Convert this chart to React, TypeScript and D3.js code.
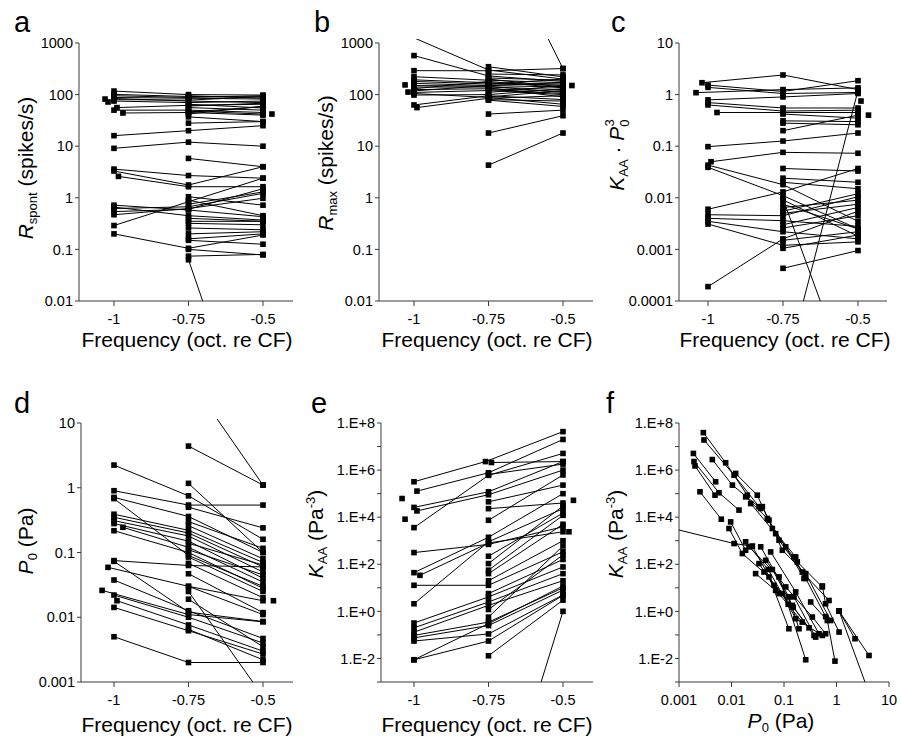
import React from 'react';
import * as d3 from 'd3';

type Pt = [number, number];

const FONT = '"Liberation Sans", Arial, Helvetica, sans-serif';

const FREQ_TICKS = [-1, -0.75, -0.5];
const FREQ_TICK_LABELS = ['-1', '-0.75', '-0.5'];

const TICKS_A = [0.01, 0.1, 1, 10, 100, 1000];
const TICK_LABELS_A = ['0.01', '0.1', '1', '10', '100', '1000'];
const TICKS_C = [0.0001, 0.001, 0.01, 0.1, 1, 10];
const TICK_LABELS_C = ['0.0001', '0.001', '0.01', '0.1', '1', '10'];
const TICKS_D = [0.001, 0.01, 0.1, 1, 10];
const TICK_LABELS_D = ['0.001', '0.01', '0.1', '1', '10'];
const TICKS_E = [1e-2, 1, 1e2, 1e4, 1e6, 1e8];
const TICK_LABELS_E = ['1.E-2', '1.E+0', '1.E+2', '1.E+4', '1.E+6', '1.E+8'];
const MINOR_E = [1e-3, 1e-1, 1e1, 1e3, 1e5, 1e7];
const TICKS_FX = [0.001, 0.01, 0.1, 1, 10];
const TICK_LABELS_FX = ['0.001', '0.01', '0.1', '1', '10'];

// a: R_spont (spikes/s) per unit
const rSpontUnits: Pt[][] = [
  [[-1, 117], [-0.75, 100], [-0.5, 98]],
  [[-1, 101], [-0.75, 92], [-0.5, 90]],
  [[-1, 95], [-0.75, 88], [-0.5, 95]],
  [[-1, 88], [-0.75, 85], [-0.5, 82]],
  [[-1, 84], [-0.75, 75], [-0.5, 70]],
  [[-1, 80], [-0.75, 78], [-0.5, 92]],
  [[-1, 75], [-0.75, 70], [-0.5, 75]],
  [[-1.03, 82]],
  [[-1.02, 72]],
  [[-0.99, 56], [-0.75, 62], [-0.5, 65]],
  [[-1, 50], [-0.75, 50], [-0.5, 45]],
  [[-0.97, 44], [-0.75, 45], [-0.5, 40]],
  [[-0.75, 95], [-0.5, 85]],
  [[-0.75, 65], [-0.5, 55]],
  [[-0.75, 60], [-0.5, 68]],
  [[-0.75, 56], [-0.5, 50]],
  [[-0.75, 48], [-0.5, 42]],
  [[-0.75, 46], [-0.5, 58]],
  [[-0.75, 42], [-0.5, 60]],
  [[-0.47, 42]],
  [[-0.75, 37], [-0.5, 30]],
  [[-0.75, 28], [-0.5, 30]],
  [[-1, 16], [-0.75, 20], [-0.5, 25]],
  [[-1, 9.1], [-0.75, 12], [-0.5, 10]],
  [[-0.75, 5.8], [-0.5, 4.0]],
  [[-1, 3.6], [-0.75, 2.7], [-0.5, 2.4]],
  [[-1, 3.3], [-0.75, 1.77], [-0.5, 4.0]],
  [[-0.985, 2.6], [-0.75, 1.64], [-0.5, 1.64]],
  [[-1, 0.72], [-0.75, 0.58], [-0.5, 0.43]],
  [[-1, 0.66], [-0.75, 0.45], [-0.5, 0.37]],
  [[-1, 0.62], [-0.75, 0.67], [-0.5, 1.22]],
  [[-1, 0.54], [-0.75, 0.6], [-0.5, 1.5]],
  [[-1, 0.47], [-0.75, 0.62], [-0.5, 0.98]],
  [[-1, 0.29], [-0.75, 0.84], [-0.5, 2.4]],
  [[-1, 0.2], [-0.75, 0.105], [-0.5, 0.19]],
  [[-0.75, 1.05], [-0.5, 0.72]],
  [[-0.75, 0.9], [-0.5, 0.45]],
  [[-0.75, 0.75], [-0.5, 1.3]],
  [[-0.75, 0.4], [-0.5, 0.35]],
  [[-0.75, 0.35], [-0.5, 0.35]],
  [[-0.75, 0.32], [-0.5, 0.3]],
  [[-0.75, 0.26], [-0.5, 0.24]],
  [[-0.75, 0.2], [-0.5, 0.22]],
  [[-0.75, 0.15], [-0.5, 0.126]],
  [[-0.75, 0.16], [-0.5, 0.2]],
  [[-0.75, 0.074], [-0.5, 0.08]],
  [[-0.75, 0.1], [-0.5, 0.078]],
  [[-0.75, 0.063], [-0.5, 4e-6]],
];

// b: R_max (spikes/s)
const rMaxUnits: Pt[][] = [
  [[-1, 1260], [-0.75, 300], [-0.5, 200]],
  [[-1, 570], [-0.75, 230], [-0.5, 180]],
  [[-1, 291], [-0.75, 290], [-0.5, 320]],
  [[-0.75, 2.5e5], [-0.5, 320]],
  [[-1, 222], [-0.75, 190], [-0.5, 170]],
  [[-1, 193], [-0.75, 170], [-0.5, 150]],
  [[-1, 180], [-0.75, 160], [-0.5, 160]],
  [[-1, 165], [-0.75, 150], [-0.5, 140]],
  [[-1, 150], [-0.75, 145], [-0.5, 110]],
  [[-1, 140], [-0.75, 140], [-0.5, 125]],
  [[-1, 130], [-0.75, 180], [-0.5, 135]],
  [[-1, 125], [-0.75, 130], [-0.5, 115]],
  [[-1, 118], [-0.75, 150], [-0.5, 170]],
  [[-1, 110], [-0.75, 120], [-0.5, 100]],
  [[-1, 105], [-0.75, 88], [-0.5, 65]],
  [[-1, 98], [-0.75, 100], [-0.5, 130]],
  [[-1, 63], [-0.75, 95], [-0.5, 80]],
  [[-0.99, 56], [-0.75, 85], [-0.5, 95]],
  [[-1.03, 154]],
  [[-1.02, 112]],
  [[-0.47, 150]],
  [[-0.75, 347], [-0.5, 220]],
  [[-0.75, 250], [-0.5, 241]],
  [[-0.75, 210], [-0.5, 190]],
  [[-0.75, 200], [-0.5, 140]],
  [[-0.75, 160], [-0.5, 200]],
  [[-0.75, 135], [-0.5, 90]],
  [[-0.75, 125], [-0.5, 105]],
  [[-0.75, 110], [-0.5, 150]],
  [[-0.75, 90], [-0.5, 120]],
  [[-0.75, 80], [-0.5, 75]],
  [[-0.75, 78], [-0.5, 59]],
  [[-0.75, 42], [-0.5, 50]],
  [[-0.75, 18], [-0.5, 39]],
  [[-0.75, 4.3], [-0.5, 18]],
];

// c: K_AA * P0^3
const kp3Units: Pt[][] = [
  [[-1.02, 1.7], [-0.75, 2.4], [-0.5, 1.25]],
  [[-1, 1.53], [-0.75, 1.15], [-0.5, 1.86]],
  [[-1, 1.38], [-0.75, 1.05], [-0.5, 1.1]],
  [[-1.04, 1.09], [-0.75, 1.25], [-0.5, 1.35]],
  [[-1, 0.79], [-0.75, 0.9], [-0.5, 1.05]],
  [[-1, 0.7], [-0.75, 0.55], [-0.5, 0.55]],
  [[-1, 0.63], [-0.75, 0.48], [-0.5, 0.5]],
  [[-0.97, 0.45], [-0.75, 0.45], [-0.5, 0.45]],
  [[-0.75, 0.42], [-0.5, 0.35]],
  [[-0.75, 0.31], [-0.5, 0.3]],
  [[-0.75, 0.28], [-0.5, 0.26]],
  [[-0.75, 0.2], [-0.5, 0.4]],
  [[-0.49, 0.75]],
  [[-0.465, 0.4]],
  [[-1, 0.098], [-0.75, 0.126], [-0.5, 0.18]],
  [[-0.99, 0.05], [-0.75, 0.076], [-0.5, 0.073]],
  [[-1, 0.043], [-0.75, 0.018], [-0.5, 0.0035]],
  [[-1, 0.039], [-0.75, 0.011], [-0.5, 0.0025]],
  [[-0.75, 0.037], [-0.5, 0.033]],
  [[-0.75, 0.024], [-0.5, 0.02]],
  [[-0.75, 0.02], [-0.5, 0.015]],
  [[-1, 0.006], [-0.75, 0.013], [-0.5, 0.037]],
  [[-1, 0.0047], [-0.75, 0.0045], [-0.5, 0.0105]],
  [[-1, 0.004], [-0.75, 0.0036], [-0.5, 0.0028]],
  [[-1, 0.0035], [-0.75, 0.0022], [-0.5, 0.0016]],
  [[-1, 0.0031], [-0.75, 0.0012], [-0.5, 0.0014]],
  [[-1, 0.00019], [-0.75, 0.0016], [-0.5, 0.0055]],
  [[-0.75, 0.00043], [-0.5, 0.00095]],
  [[-0.75, 0.0091], [-0.5, 0.0018]],
  [[-0.75, 0.0075], [-0.5, 0.0025]],
  [[-0.75, 0.0065], [-0.5, 0.009]],
  [[-0.75, 0.0055], [-0.5, 0.012]],
  [[-0.75, 0.005], [-0.5, 0.0075]],
  [[-0.75, 0.003], [-0.5, 0.0065]],
  [[-0.75, 0.0026], [-0.5, 0.0045]],
  [[-0.75, 0.0015], [-0.5, 0.0022]],
  [[-0.75, 0.00105], [-0.5, 0.0019]],
  [[-0.75, 0.0095], [-0.5, 1e-6]],
  [[-0.75, 3e-6], [-0.5, 1.2]],
];

// d: P0 (Pa)
const p0Units: Pt[][] = [
  [[-0.75, 50], [-0.5, 1.1]],
  [[-0.75, 4.4], [-0.5, 1.1]],
  [[-1, 2.24], [-0.75, 0.75], [-0.5, 0.16]],
  [[-1, 0.9], [-0.75, 0.54], [-0.5, 0.54]],
  [[-1, 0.71], [-0.75, 0.36], [-0.5, 0.1]],
  [[-1, 0.68], [-0.75, 0.09], [-0.5, 0.03]],
  [[-1, 0.39], [-0.75, 0.22], [-0.5, 0.07]],
  [[-1, 0.35], [-0.75, 0.2], [-0.5, 0.06]],
  [[-1, 0.31], [-0.75, 0.18], [-0.5, 0.05]],
  [[-1, 0.28], [-0.75, 0.15], [-0.5, 0.04]],
  [[-0.97, 0.245], [-0.75, 0.12], [-0.5, 0.035]],
  [[-1, 0.217], [-0.75, 0.1], [-0.5, 0.028]],
  [[-0.75, 1.17], [-0.5, 0.1]],
  [[-0.75, 0.5], [-0.5, 0.24]],
  [[-0.75, 0.3], [-0.5, 0.116]],
  [[-0.75, 0.26], [-0.5, 0.08]],
  [[-0.75, 0.139], [-0.5, 0.064]],
  [[-0.75, 0.11], [-0.5, 0.045]],
  [[-0.75, 0.085], [-0.5, 0.025]],
  [[-0.75, 0.068], [-0.5, 0.02]],
  [[-1, 0.075], [-0.75, 0.063], [-0.5, 0.06]],
  [[-1, 0.073], [-0.75, 0.012], [-0.5, 0.0086]],
  [[-1.02, 0.059], [-0.75, 0.03], [-0.5, 0.011]],
  [[-1, 0.0376], [-0.75, 0.0126], [-0.5, 0.0047]],
  [[-1.04, 0.026], [-0.75, 0.011], [-0.5, 0.0085]],
  [[-1, 0.022], [-0.75, 0.01], [-0.5, 0.004]],
  [[-0.99, 0.018], [-0.75, 0.0076], [-0.5, 0.003]],
  [[-1, 0.0142], [-0.75, 0.0062], [-0.5, 0.0027]],
  [[-1, 0.005], [-0.75, 0.002], [-0.5, 0.002]],
  [[-0.75, 0.047], [-0.5, 0.0118]],
  [[-0.75, 0.03], [-0.5, 0.018]],
  [[-0.75, 0.019], [-0.5, 0.0035]],
  [[-0.75, 0.025], [-0.5, 0.0006]],
  [[-0.75, 0.0065], [-0.5, 0.0022]],
  [[-0.465, 0.018]],
];

// e: K_AA (Pa^-3)
const kaaUnits: Pt[][] = [
  [[-1, 3.2e5], [-0.76, 2.3e6], [-0.5, 4.3e7]],
  [[-0.74, 2.1e6], [-0.5, 2.3e6]],
  [[-0.99, 1.28e5], [-0.75, 7.7e5], [-0.5, 2e7]],
  [[-1.04, 6.2e4]],
  [[-1, 2.6e4], [-0.75, 1.2e5], [-0.5, 2.3e6]],
  [[-0.99, 1.85e4], [-0.75, 9e4], [-0.5, 1e6]],
  [[-1.03, 8.2e3]],
  [[-1, 3.6e3], [-0.75, 6e5], [-0.5, 5.1e6]],
  [[-0.75, 6.5e5], [-0.5, 1.8e6]],
  [[-0.75, 2.3e4], [-0.5, 4e4]],
  [[-0.75, 7.4e3], [-0.5, 6.2e5]],
  [[-0.75, 4.5e4], [-0.5, 2.3e5]],
  [[-1, 314], [-0.75, 700], [-0.5, 3.9e3]],
  [[-1, 44], [-0.75, 1.4e3], [-0.5, 1e5]],
  [[-0.98, 34], [-0.75, 800], [-0.5, 2.4e3]],
  [[-1, 12.8], [-0.75, 12.8], [-0.5, 340]],
  [[-1, 2.1], [-0.75, 900], [-0.5, 2.3e4]],
  [[-1, 0.32], [-0.75, 4.1], [-0.5, 77]],
  [[-1, 0.2], [-0.75, 2.5], [-0.5, 40]],
  [[-1, 0.13], [-0.75, 1.8], [-0.5, 20]],
  [[-1, 0.095], [-0.75, 0.35], [-0.5, 10]],
  [[-1, 0.075], [-0.75, 0.25], [-0.5, 8]],
  [[-1, 0.055], [-0.75, 0.11], [-0.5, 5]],
  [[-1, 0.0088], [-0.75, 0.055], [-0.5, 4.8]],
  [[-1, 0.0088], [-0.75, 0.3], [-0.5, 12]],
  [[-0.75, 0.013], [-0.5, 3]],
  [[-0.75, 107], [-0.5, 3e4]],
  [[-0.75, 56], [-0.5, 1.2e4]],
  [[-0.75, 40], [-0.5, 5e3]],
  [[-0.75, 220], [-0.5, 1.5e4]],
  [[-0.75, 0.57], [-0.5, 600]],
  [[-0.75, 5.7], [-0.5, 160]],
  [[-0.75, 1.2], [-0.5, 250]],
  [[-0.75, 20], [-0.5, 1e3]],
  [[-0.75, 6e-11], [-0.5, 1]],
  [[-0.465, 5.2e4]],
  [[-0.48, 2.4e3]],
];

// f: K_AA vs P0, one chain per unit
const kaaVsP0Units: Pt[][] = [
  [[0.00291, 3.9e7], [0.00774, 2.05e6], [0.02, 8.6e4]],
  [[0.00299, 1.9e7], [0.0112, 6.1e5], [0.0334, 2.8e4]],
  [[0.00431, 2.8e6], [0.0104, 2.3e5], [0.036, 2.34e4]],
  [[0.00188, 5.1e6], [0.00499, 3.2e5]],
  [[0.00193, 2.3e6], [0.00578, 1.09e5], [0.0139, 2e4]],
  [[0.00202, 1.5e6], [0.00485, 8.6e4]],
  [[0.00251, 1.2e5], [0.0064, 8.2e3]],
  [[0.012, 7.2e5], [0.031, 8.6e4], [0.06, 3.3e3], [0.167, 205]],
  [[0.0186, 7.3e4], [0.0482, 8.8e3], [0.108, 550], [0.24, 25]],
  [[0.0232, 3.8e4], [0.0694, 2.0e3], [0.179, 126], [0.537, 10.9]],
  [[0.0387, 2.8e4], [0.0804, 1.05e3], [0.223, 47], [0.72, 2.9]],
  [[0.0518, 7.5e3], [0.093, 394], [0.259, 40], [0.775, 0.41]],
  [[0.537, 12], [0.62, 2.1], [1.12, 0.132]],
  [[1.12, 1.03], [2.25, 0.069]],
  [[1.12, 1.03], [4.16, 0.0134]],
  [[1.12, 1.03], [10, 1.6e-6]],
  [[0.00896, 3.3e3], [0.0161, 285], [0.0518, 29], [0.124, 0.183]],
  [[0.00964, 6.3e3], [0.0186, 394]],
  [[0.0001, 1e4], [0.0112, 760], [0.0249, 583]],
  [[0.0216, 550], [0.0804, 29], [0.259, 0.0088]],
  [[0.036, 550], [0.124, 4.1], [0.193, 0.183]],
  [[0.0557, 335], [0.167, 6.7], [0.464, 0.112]],
  [[0.0249, 583], [0.0645, 12.8], [0.144, 1.8], [0.373, 0.095]],
  [[0.0448, 148], [0.108, 10.9], [0.347, 0.574], [0.622, 0.112]],
  [[0.0334, 107], [0.0804, 5.7], [0.223, 0.35]],
  [[0.0288, 40], [0.0694, 7.8], [0.155, 4.1], [0.401, 0.081]],
  [[0.0416, 47], [0.093, 5.7], [0.167, 0.488], [0.537, 0.095]],
  [[0.322, 2.5], [0.668, 0.41], [0.935, 0.0077]],
  [[0.155, 205], [0.259, 25], [0.622, 0.6]],
  [[0.0186, 900], [0.05, 60], [0.12, 2.0]],
  [[0.06, 60], [0.15, 1.5], [0.3, 0.2]],
];

interface Spec {
  letter: string;
  letterPos: [number, number];
  xRange: [number, number];
  xDomain: [number, number];
  xLog: boolean;
  xTicks: number[];
  xTickLabels: string[];
  yRange: [number, number];
  yDomain: [number, number];
  yTicks: number[];
  yTickLabels: string[];
  yMinor: number[];
  units: Pt[][];
  xTitle: React.ReactNode;
  xTitlePos: [number, number];
  yTitle: React.ReactNode;
  yTitlePos: [number, number];
}

const SUB = 13;
const freqTitle = 'Frequency (oct. re CF)';

const it = (s: string) => <tspan fontStyle="italic">{s}</tspan>;

const specs: Spec[] = [
  {
    letter: 'a', letterPos: [14, 32],
    xRange: [79, 293], xDomain: [-1.1174, -0.3993], xLog: false,
    xTicks: FREQ_TICKS, xTickLabels: FREQ_TICK_LABELS,
    yRange: [301, 43], yDomain: [0.01, 1000], yTicks: TICKS_A, yTickLabels: TICK_LABELS_A, yMinor: [],
    units: rSpontUnits,
    xTitle: freqTitle, xTitlePos: [187, 347],
    yTitle: (<>{it('R')}<tspan fontSize={SUB} dy={4}>spont</tspan><tspan dy={-4}> (spikes/s)</tspan></>),
    yTitlePos: [33, 168],
  },
  {
    letter: 'b', letterPos: [314, 32],
    xRange: [379, 593], xDomain: [-1.1174, -0.3993], xLog: false,
    xTicks: FREQ_TICKS, xTickLabels: FREQ_TICK_LABELS,
    yRange: [301, 43], yDomain: [0.01, 1000], yTicks: TICKS_A, yTickLabels: TICK_LABELS_A, yMinor: [],
    units: rMaxUnits,
    xTitle: freqTitle, xTitlePos: [487, 347],
    yTitle: (<>{it('R')}<tspan fontSize={SUB} dy={4}>max</tspan><tspan dy={-4}> (spikes/s)</tspan></>),
    yTitlePos: [333, 163],
  },
  {
    letter: 'c', letterPos: [611, 32],
    xRange: [679, 887], xDomain: [-1.0967, -0.4033], xLog: false,
    xTicks: FREQ_TICKS, xTickLabels: FREQ_TICK_LABELS,
    yRange: [301, 43], yDomain: [0.0001, 10], yTicks: TICKS_C, yTickLabels: TICK_LABELS_C, yMinor: [],
    units: kp3Units,
    xTitle: freqTitle, xTitlePos: [785, 347],
    yTitle: (<>{it('K')}<tspan fontSize={SUB} dy={4}>AA</tspan><tspan dy={-4}>{' \u00b7 '}</tspan>{it('P')}<tspan fontSize={SUB} dy={5}>0</tspan><tspan fontSize={SUB} dx={-7.2} dy={-15}>3</tspan></>),
    yTitlePos: [624, 155],
  },
  {
    letter: 'd', letterPos: [14, 413],
    xRange: [81, 293], xDomain: [-1.1107, -0.3993], xLog: false,
    xTicks: FREQ_TICKS, xTickLabels: FREQ_TICK_LABELS,
    yRange: [682, 423], yDomain: [0.001, 10], yTicks: TICKS_D, yTickLabels: TICK_LABELS_D, yMinor: [],
    units: p0Units,
    xTitle: freqTitle, xTitlePos: [187, 732],
    yTitle: (<>{it('P')}<tspan fontSize={SUB} dy={4}>0</tspan><tspan dy={-4}> (Pa)</tspan></>),
    yTitlePos: [33, 541],
  },
  {
    letter: 'e', letterPos: [311, 413],
    xRange: [381, 593], xDomain: [-1.1107, -0.3993], xLog: false,
    xTicks: FREQ_TICKS, xTickLabels: FREQ_TICK_LABELS,
    yRange: [682, 423], yDomain: [0.001, 1e8], yTicks: TICKS_E, yTickLabels: TICK_LABELS_E, yMinor: MINOR_E,
    units: kaaUnits,
    xTitle: freqTitle, xTitlePos: [487, 732],
    yTitle: (<>{it('K')}<tspan fontSize={SUB} dy={4}>AA</tspan><tspan dy={-4}> (Pa</tspan><tspan fontSize={SUB} dy={-8}>-3</tspan><tspan dy={8}>)</tspan></>),
    yTitlePos: [323, 534],
  },
  {
    letter: 'f', letterPos: [606, 413],
    xRange: [679, 889], xDomain: [0.001, 10], xLog: true,
    xTicks: TICKS_FX, xTickLabels: TICK_LABELS_FX,
    yRange: [682, 423], yDomain: [0.001, 1e8], yTicks: TICKS_E, yTickLabels: TICK_LABELS_E, yMinor: MINOR_E,
    units: kaaVsP0Units,
    xTitle: (<>{it('P')}<tspan fontSize={SUB} dy={4}>0</tspan><tspan dy={-4}> (Pa)</tspan></>),
    xTitlePos: [781, 728],
    yTitle: (<>{it('K')}<tspan fontSize={SUB} dy={4}>AA</tspan><tspan dy={-4}> (Pa</tspan><tspan fontSize={SUB} dy={-8}>-3</tspan><tspan dy={8}>)</tspan></>),
    yTitlePos: [623, 534],
  },
];

const AXIS = '#3a3a3a';
const SQ = 5.6;

function Panel({ spec, idx }: { spec: Spec; idx: number }) {
  const x = spec.xLog
    ? d3.scaleLog().domain(spec.xDomain).range(spec.xRange)
    : d3.scaleLinear().domain(spec.xDomain).range(spec.xRange);
  const y = d3.scaleLog().domain(spec.yDomain).range(spec.yRange);
  const [x0, x1] = spec.xRange;
  const [yb, yt] = spec.yRange;
  const line = d3.line<Pt>().x((d) => x(d[0])).y((d) => y(d[1]));
  const clipId = `clip-${idx}`;
  const inside = (p: Pt) => {
    const px = x(p[0]);
    const py = y(p[1]);
    return px >= x0 - 1 && px <= x1 + 1 && py >= yt - 1 && py <= yb + 1;
  };
  return (
    <g>
      <defs>
        <clipPath id={clipId}>
          <rect x={x0} y={yt - 4} width={x1 - x0} height={yb - yt + 4} />
        </clipPath>
      </defs>
      <text x={spec.letterPos[0]} y={spec.letterPos[1]} fontSize={29} fontFamily={FONT}>{spec.letter}</text>
      <line x1={x0} x2={x0} y1={yt} y2={yb} stroke={AXIS} strokeWidth={1} />
      <line x1={x0} x2={x1} y1={yb} y2={yb} stroke={AXIS} strokeWidth={1} />
      {spec.yTicks.map((t, i) => (
        <g key={`yt${i}`}>
          <line x1={x0 - 4} x2={x0} y1={y(t)} y2={y(t)} stroke={AXIS} />
          <text x={x0 - 6} y={y(t)} dy="0.36em" textAnchor="end" fontSize={14.5} fontFamily={FONT}>{spec.yTickLabels[i]}</text>
        </g>
      ))}
      {spec.yMinor.map((t, i) => (
        <line key={`ym${i}`} x1={x0 - 4} x2={x0} y1={y(t)} y2={y(t)} stroke={AXIS} />
      ))}
      {spec.xTicks.map((t, i) => (
        <g key={`xt${i}`}>
          <line x1={x(t)} x2={x(t)} y1={yb} y2={yb + 5} stroke={AXIS} />
          <text x={x(t)} y={yb + 23} textAnchor="middle" fontSize={14.5} fontFamily={FONT}>{spec.xTickLabels[i]}</text>
        </g>
      ))}
      <text x={spec.xTitlePos[0]} y={spec.xTitlePos[1]} textAnchor="middle" fontSize={21} fontFamily={FONT}>{spec.xTitle}</text>
      <text transform={`translate(${spec.yTitlePos[0]},${spec.yTitlePos[1]}) rotate(-90)`} textAnchor="middle" fontSize={21} fontFamily={FONT}>{spec.yTitle}</text>
      <g clipPath={`url(#${clipId})`}>
        {spec.units.filter((u) => u.length > 1).map((u, i) => (
          <path key={`l${i}`} d={line(u) || ''} fill="none" stroke="#000" strokeWidth={1} />
        ))}
      </g>
      {spec.units.flatMap((u, i) => u.filter(inside).map((p, j) => (
        <rect key={`p${i}-${j}`} x={x(p[0]) - SQ / 2} y={y(p[1]) - SQ / 2} width={SQ} height={SQ} fill="#000" />
      )))}
    </g>
  );
}

export default function App() {
  return (
    <svg width={902} height={740} viewBox="0 0 902 740" style={{ position: 'absolute', left: 0, top: 0, background: '#fff' }}>
      <rect x={0} y={0} width={902} height={740} fill="#fff" />
      {specs.map((s, i) => <Panel key={i} spec={s} idx={i} />)}
    </svg>
  );
}
